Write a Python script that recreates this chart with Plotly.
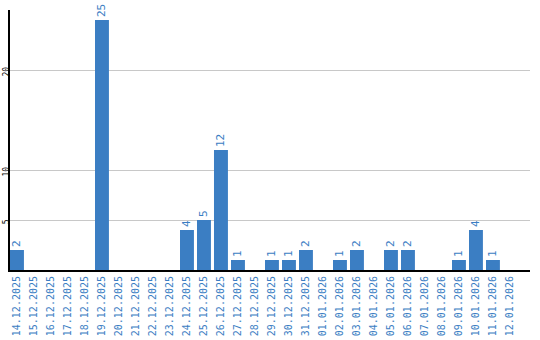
import plotly.graph_objects as go

dates = ["14.12.2025","15.12.2025","16.12.2025","17.12.2025","18.12.2025","19.12.2025",
         "20.12.2025","21.12.2025","22.12.2025","23.12.2025","24.12.2025","25.12.2025",
         "26.12.2025","27.12.2025","28.12.2025","29.12.2025","30.12.2025","31.12.2025",
         "01.01.2026","02.01.2026","03.01.2026","04.01.2026","05.01.2026","06.01.2026",
         "07.01.2026","08.01.2026","09.01.2026","10.01.2026","11.01.2026","12.01.2026"]
counts = [2,0,0,0,0,25,0,0,0,0,4,5,12,1,0,1,1,2,0,1,2,0,2,2,0,0,1,4,1,0]
y_ticks = [5, 10, 20]

blue = "#3b7ec3"
labels = [str(v) if v else "" for v in counts]

fig = go.Figure(go.Bar(
    x=list(range(len(dates))), y=counts, marker_color=blue, marker_line_width=0,
    width=0.82, text=labels, textposition="outside", textangle=-90,
    textfont=dict(family="DejaVu Sans Mono", size=11, color=blue),
    cliponaxis=False, hoverinfo="skip",
))
fig.update_layout(
    width=540, height=340, margin=dict(l=10, r=10, t=10, b=70),
    paper_bgcolor="white", plot_bgcolor="white", showlegend=False,
    bargap=0.18,
)
fig.update_xaxes(
    tickmode="array", tickvals=list(range(len(dates))), ticktext=dates,
    tickangle=-90, tickfont=dict(family="DejaVu Sans Mono", size=10, color=blue),
    range=[-0.41, 30.18], showline=True, linecolor="black", linewidth=2,
    showgrid=False, ticks="", zeroline=False, automargin=False,
)
fig.update_yaxes(
    range=[0, 26], tickvals=y_ticks, tickangle=-90,
    tickfont=dict(family="DejaVu Sans Mono", size=8, color="black"),
    showline=True, linecolor="black", linewidth=2, showgrid=True,
    gridcolor="#c8c8c8", gridwidth=1, zeroline=False, ticks="", ticklabelstandoff=-4,
    ticklabelshift=3, automargin=False,
)
fig.write_html("out.html")
